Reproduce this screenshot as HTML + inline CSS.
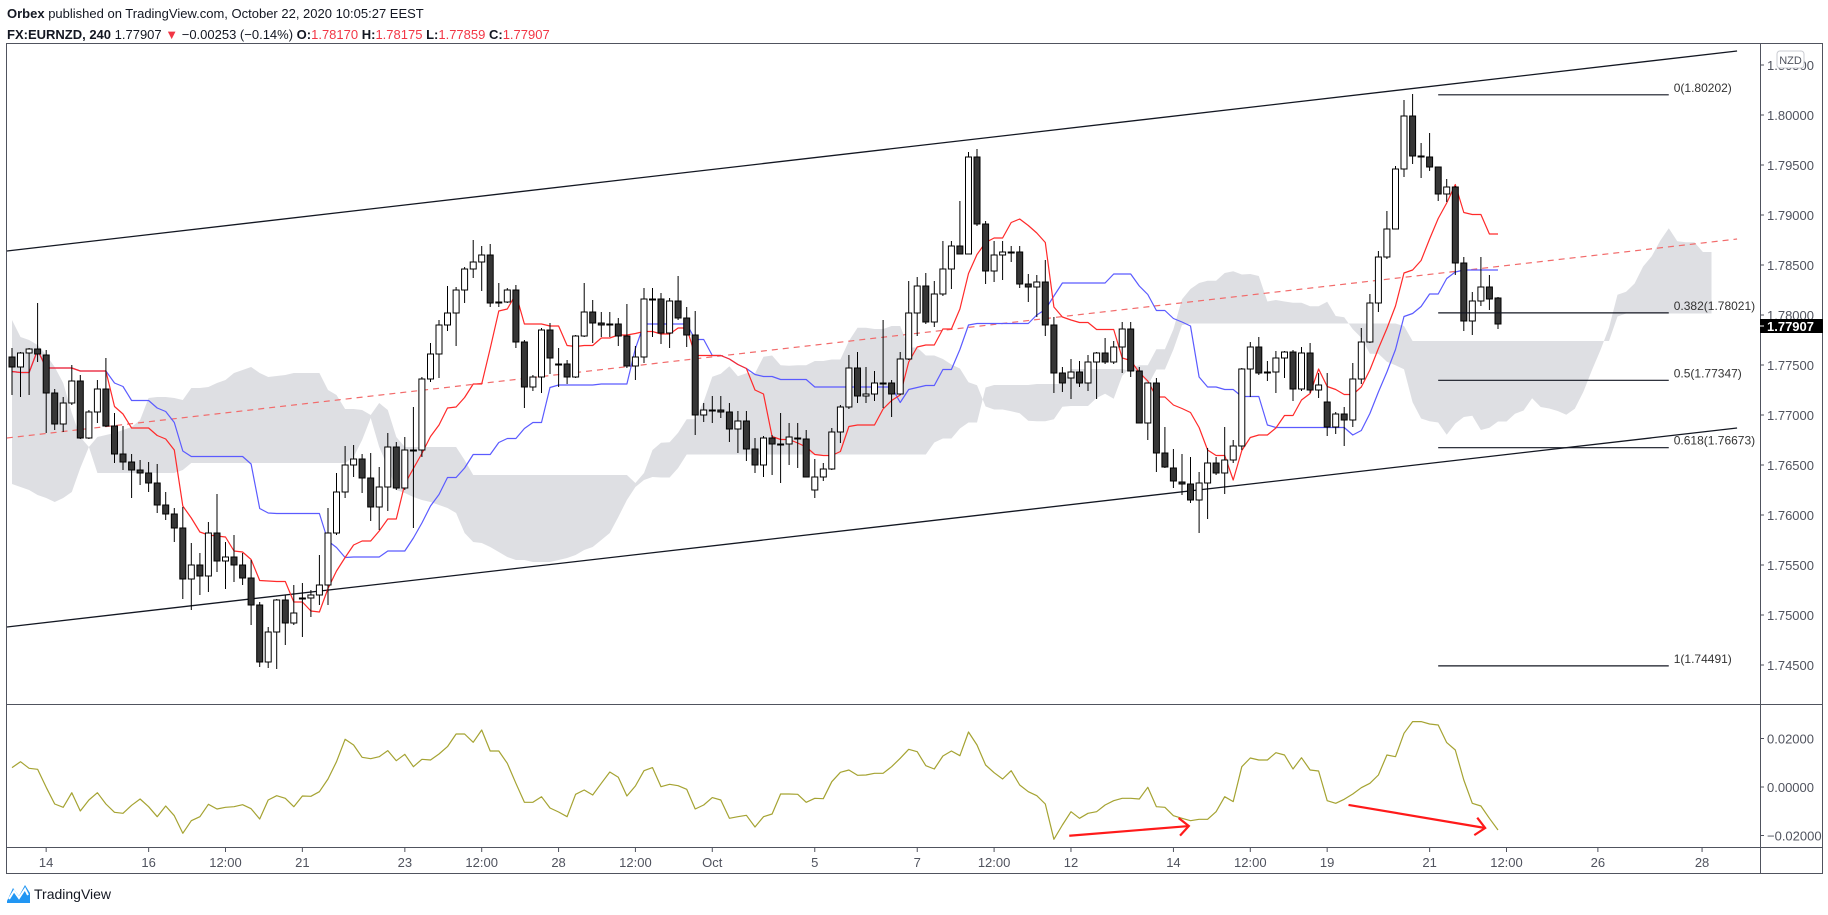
<!DOCTYPE html>
<html><head><meta charset="utf-8">
<style>
html,body{margin:0;padding:0;background:#fff;}
body{width:1828px;height:910px;overflow:hidden;font-family:"Liberation Sans",sans-serif;}
svg text{font-family:"Liberation Sans",sans-serif;}
</style></head>
<body>
<svg id="chart" width="1828" height="910" viewBox="0 0 1828 910" xmlns="http://www.w3.org/2000/svg">
  <g font-size="13" fill="#131722">
    <text x="7" y="18"><tspan font-weight="bold">Orbex</tspan> published on TradingView.com, October 22, 2020 10:05:27 EEST</text>
    <text x="7" y="39"><tspan font-weight="bold">FX:EURNZD, 240</tspan> 1.77907 <tspan fill="#f23645">▼</tspan> −0.00253 (−0.14%) <tspan font-weight="bold">O:</tspan><tspan fill="#f23645">1.78170</tspan> <tspan font-weight="bold">H:</tspan><tspan fill="#f23645">1.78175</tspan> <tspan font-weight="bold">L:</tspan><tspan fill="#f23645">1.77859</tspan> <tspan font-weight="bold">C:</tspan><tspan fill="#f23645">1.77907</tspan></text>
  </g>
  <defs>
    <clipPath id="mainClip"><rect x="6" y="43" width="1753" height="661"/></clipPath>
    <clipPath id="oscClip"><rect x="6" y="704" width="1753" height="143"/></clipPath>
  </defs>
  <g id="cloud" clip-path="url(#mainClip)"></g>
  <g id="drawings" clip-path="url(#mainClip)"></g>
  <g id="lines" clip-path="url(#mainClip)"></g>
  <g id="candles" clip-path="url(#mainClip)"></g>
  <g id="fib"></g>
  <g id="osc" clip-path="url(#oscClip)"></g>
  <g id="frame">
    <rect x="6.5" y="43.5" width="1816" height="830" fill="none" stroke="#50535e" stroke-width="1"/>
    <line x1="6" y1="704.5" x2="1822" y2="704.5" stroke="#50535e"/>
    <line x1="6" y1="847.5" x2="1822" y2="847.5" stroke="#50535e"/>
    <line x1="1760.5" y1="43" x2="1760.5" y2="873" stroke="#50535e"/>
  </g>
  <g id="yaxis" font-size="13" fill="#50535e"></g>
  <g id="oscaxis" font-size="13" fill="#50535e"></g>
  <g id="xaxis" font-size="13" fill="#50535e"></g>
  <g>
    <rect x="1777" y="51" width="27" height="17" rx="3" fill="#fff" stroke="#c9cbd1"/>
    <text x="1790.5" y="64" font-size="11" fill="#50535e" text-anchor="middle">NZD</text>
  </g>
  <g id="lastprice">
    <rect x="1760" y="319" width="63" height="14" fill="#000"/>
    <line x1="1760" y1="326" x2="1764" y2="326" stroke="#fff"/>
    <text x="1767" y="331" font-size="13" font-weight="bold" fill="#fff">1.77907</text>
  </g>
  <g>
    <path d="M7 901 L13 888 L19 896 L25 885 L30 893 L30 903 L7 903 Z" fill="#2196f3"/>
    <path d="M9 899 L14 891 L19 898 L25 889 L28 895" fill="none" stroke="#fff" stroke-width="2"/>
    <text x="34" y="899" font-size="14" fill="#131722">TradingView</text>
  </g>
</svg>
<script>
// ---------------- data ----------------
const opens=[1.7758,1.7748,1.7762,1.7766,1.7760,1.7722,1.7691,1.7712,1.7734,1.7677,1.7703,1.7726,1.7689,1.7661,1.7653,1.7645,1.7642,1.7632,1.7610,1.7601,1.7587,1.7536,1.7550,1.7539,1.7582,1.7554,1.7558,1.7550,1.7537,1.7510,1.7453,1.7483,1.7515,1.7492,1.7517,1.7517,1.7520,1.7530,1.7582,1.7623,1.7650,1.7656,1.7637,1.7608,1.7628,1.7668,1.7627,1.7665,1.7665,1.7736,1.7761,1.7790,1.7802,1.7825,1.7846,1.7853,1.7860,1.7812,1.7813,1.7825,1.7773,1.7728,1.7738,1.7785,1.7751,1.7751,1.7738,1.7779,1.7803,1.7792,1.7791,1.7791,1.7779,1.7749,1.7758,1.7816,1.7816,1.7782,1.7814,1.7797,1.7780,1.7700,1.7705,1.7705,1.7703,1.7686,1.7694,1.7666,1.7650,1.7677,1.7671,1.7671,1.7677,1.7676,1.7625,1.7638,1.7646,1.7683,1.7708,1.7747,1.7719,1.7721,1.7732,1.7732,1.7721,1.7756,1.7802,1.7829,1.7793,1.7821,1.7846,1.7869,1.7861,1.7958,1.7891,1.7844,1.7860,1.7863,1.7863,1.7831,1.7828,1.7833,1.7790,1.7742,1.7737,1.7743,1.7732,1.7753,1.7762,1.7753,1.7768,1.7786,1.7744,1.7692,1.7732,1.7662,1.7647,1.7633,1.7631,1.7615,1.7632,1.7652,1.7642,1.7655,1.7669,1.7746,1.7768,1.7743,1.7743,1.7757,1.7763,1.7726,1.7762,1.7725,1.7713,1.7688,1.7701,1.7695,1.7736,1.7773,1.7812,1.7858,1.7886,1.7946,1.7999,1.7959,1.7958,1.7948,1.7921,1.7928,1.7852,1.7794,1.7814,1.7828,1.7817];
const highs=[1.7767,1.7763,1.7767,1.7812,1.7765,1.7726,1.7718,1.7750,1.7740,1.7705,1.7735,1.7757,1.7702,1.7689,1.7661,1.7655,1.7653,1.7651,1.7623,1.7607,1.7608,1.7572,1.7562,1.7593,1.7621,1.7573,1.7580,1.7562,1.7555,1.7513,1.7488,1.7516,1.7520,1.7530,1.7532,1.7525,1.7560,1.7607,1.7642,1.7669,1.7670,1.7661,1.7662,1.7648,1.7682,1.7673,1.7678,1.7708,1.7738,1.7772,1.7795,1.7829,1.7828,1.7848,1.7875,1.7869,1.7871,1.7832,1.7827,1.7830,1.7775,1.7740,1.7787,1.7792,1.7767,1.7755,1.7780,1.7832,1.7815,1.7803,1.7803,1.7797,1.7811,1.7769,1.7827,1.7827,1.7822,1.7817,1.7839,1.7808,1.7804,1.7712,1.7719,1.7719,1.7712,1.7704,1.7704,1.7677,1.7679,1.7680,1.7702,1.7692,1.7692,1.7685,1.7656,1.7652,1.7687,1.7710,1.7760,1.7763,1.7748,1.7744,1.7795,1.7735,1.7763,1.7834,1.7838,1.7842,1.7834,1.7874,1.7874,1.7914,1.7963,1.7966,1.7894,1.7874,1.7874,1.7869,1.7869,1.7841,1.7840,1.7855,1.7798,1.7748,1.7756,1.7754,1.7760,1.7763,1.7777,1.7774,1.7793,1.7793,1.7748,1.7732,1.7737,1.7688,1.7666,1.7661,1.7658,1.7643,1.7667,1.7658,1.7688,1.7675,1.7747,1.7773,1.7778,1.7754,1.7764,1.7764,1.7765,1.7768,1.7772,1.7742,1.7742,1.7703,1.7708,1.7752,1.7787,1.7821,1.7864,1.7904,1.7949,1.8015,1.8021,1.7972,1.7982,1.7948,1.7936,1.7929,1.7858,1.7823,1.7858,1.7840,1.7818];
const lows=[1.7720,1.7718,1.7720,1.7753,1.7682,1.7685,1.7683,1.7710,1.7676,1.7676,1.7692,1.7688,1.7652,1.7645,1.7617,1.7630,1.7623,1.7602,1.7595,1.7573,1.7516,1.7505,1.7520,1.7523,1.7543,1.7526,1.7533,1.7530,1.7490,1.7448,1.7447,1.7446,1.7470,1.7490,1.7478,1.7498,1.7510,1.7510,1.7580,1.7617,1.7638,1.7622,1.7594,1.7585,1.7604,1.7625,1.7625,1.7587,1.7658,1.7733,1.7737,1.7784,1.7769,1.7812,1.7837,1.7824,1.7808,1.7808,1.7812,1.7767,1.7707,1.7724,1.7722,1.7741,1.7728,1.7731,1.7737,1.7778,1.7772,1.7778,1.7778,1.7769,1.7747,1.7735,1.7752,1.7778,1.7771,1.7767,1.7795,1.7768,1.7680,1.7693,1.7692,1.7697,1.7673,1.7662,1.7654,1.7642,1.7638,1.7640,1.7632,1.7650,1.7647,1.7638,1.7617,1.7634,1.7645,1.7672,1.7706,1.7712,1.7712,1.7714,1.7707,1.7698,1.7720,1.7755,1.7779,1.7791,1.7788,1.7819,1.7826,1.7861,1.7861,1.7889,1.7831,1.7833,1.7835,1.7853,1.7827,1.7813,1.7798,1.7779,1.7722,1.7723,1.7716,1.7728,1.7724,1.7716,1.7751,1.7751,1.7742,1.7738,1.7692,1.7675,1.7643,1.7647,1.7627,1.7620,1.7612,1.7582,1.7596,1.7640,1.7621,1.7652,1.7665,1.7718,1.7740,1.7734,1.7722,1.7737,1.7714,1.7724,1.7722,1.7717,1.7679,1.7681,1.7669,1.7688,1.7731,1.7772,1.7803,1.7856,1.7886,1.7938,1.7951,1.7937,1.7944,1.7914,1.7913,1.7840,1.7784,1.7780,1.7809,1.7805,1.7786];
const closes=[1.7748,1.7762,1.7766,1.7761,1.7722,1.7691,1.7712,1.7734,1.7677,1.7703,1.7726,1.7689,1.7661,1.7653,1.7645,1.7642,1.7632,1.7610,1.7601,1.7587,1.7536,1.7550,1.7539,1.7582,1.7554,1.7558,1.7550,1.7537,1.7510,1.7453,1.7483,1.7515,1.7492,1.7502,1.7517,1.7520,1.7530,1.7582,1.7623,1.7650,1.7656,1.7637,1.7608,1.7628,1.7668,1.7627,1.7665,1.7665,1.7736,1.7761,1.7790,1.7802,1.7825,1.7846,1.7853,1.7860,1.7812,1.7813,1.7825,1.7773,1.7728,1.7738,1.7785,1.7757,1.7750,1.7738,1.7779,1.7803,1.7792,1.7790,1.7790,1.7779,1.7749,1.7758,1.7816,1.7816,1.7782,1.7814,1.7797,1.7780,1.7700,1.7705,1.7705,1.7703,1.7686,1.7694,1.7666,1.7650,1.7677,1.7671,1.7671,1.7678,1.7676,1.7638,1.7638,1.7646,1.7683,1.7708,1.7747,1.7719,1.7721,1.7732,1.7731,1.7721,1.7756,1.7802,1.7829,1.7793,1.7821,1.7846,1.7869,1.7861,1.7958,1.7891,1.7844,1.7860,1.7863,1.7863,1.7831,1.7828,1.7833,1.7790,1.7742,1.7732,1.7743,1.7732,1.7753,1.7762,1.7753,1.7768,1.7786,1.7744,1.7692,1.7732,1.7662,1.7648,1.7634,1.7631,1.7615,1.7632,1.7652,1.7642,1.7655,1.7669,1.7746,1.7768,1.7742,1.7742,1.7757,1.7763,1.7726,1.7762,1.7725,1.7730,1.7688,1.7701,1.7695,1.7736,1.7773,1.7812,1.7858,1.7886,1.7946,1.7999,1.7959,1.7958,1.7948,1.7921,1.7928,1.7852,1.7794,1.7814,1.7828,1.7816,1.7791];
const earlyCloudA=[1.7795,1.7778,1.7775,1.7770,1.7760,1.7748,1.7732,1.7702,1.7678,1.7668,1.7678,1.7680,1.7682,1.7685,1.7688,1.7695,1.7717,1.7718,1.7718,1.7717,1.7715,1.7727,1.7727,1.7728,1.7732,1.7735,1.7742,1.7745,1.7748,1.7742,1.7738,1.7739,1.7740,1.7742,1.7742,1.7742,1.7742,1.7725,1.7720,1.7706,1.7706,1.7705,1.7700,1.7712,1.7705,1.7678,1.7668,1.7668,1.7668,1.7668,1.7668,1.7668,1.7668,1.7655,1.7640,1.7640,1.7640,1.7640,1.7640,1.7640,1.7640,1.7640,1.7640,1.7640,1.7640,1.7640,1.7640,1.7640,1.7640,1.7640,1.7640,1.7640,1.7640,1.7632,1.7642,1.7665];
const earlyCloudB=[1.7631,1.7628,1.7625,1.7620,1.7617,1.7613,1.7617,1.7623,1.7647,1.7668,1.7642,1.7642,1.7642,1.7642,1.7642,1.7642,1.7642,1.7642,1.7642,1.7642,1.7645,1.7652,1.7652,1.7652,1.7652,1.7652,1.7652,1.7652,1.7652,1.7652,1.7652,1.7652,1.7652,1.7652,1.7652,1.7652,1.7652,1.7652,1.7652,1.7652,1.7658,1.7675,1.7697,1.7668,1.7648,1.7625,1.7622,1.7618,1.7615,1.7613,1.7610,1.7607,1.7602,1.7582,1.7573,1.7572,1.7568,1.7563,1.7558,1.7555,1.7555,1.7553,1.7553,1.7553,1.7555,1.7557,1.7560,1.7565,1.7568,1.7575,1.7582,1.7598,1.7615,1.7628,1.7635,1.7638];
const oscValues=[0.00798,0.01045,0.00770,0.00729,-0.00013,-0.00701,-0.00838,-0.00233,-0.00989,-0.00536,-0.00233,-0.00701,-0.01044,-0.01085,-0.00756,-0.00494,-0.00811,-0.01223,-0.00783,-0.01182,-0.01910,-0.01388,-0.01223,-0.00714,-0.00907,-0.00838,-0.00811,-0.00728,-0.00893,-0.01319,-0.00536,-0.00357,-0.00467,-0.00811,-0.00371,-0.00385,-0.00192,0.00330,0.01045,0.01966,0.01732,0.01224,0.01169,0.01251,0.01499,0.01086,0.01347,0.00839,0.01141,0.01114,0.01361,0.01664,0.02186,0.02186,0.01842,0.02351,0.01485,0.01485,0.00976,0.00152,-0.00632,-0.00632,-0.00398,-0.00866,-0.01031,-0.01223,-0.00302,-0.00123,-0.00330,0.00152,0.00619,0.00399,-0.00371,0.00042,0.00674,0.00798,0.00014,0.00110,0.00055,-0.00096,-0.00907,-0.00742,-0.00439,-0.00536,-0.01292,-0.01223,-0.01168,-0.01649,-0.01223,-0.01113,-0.00288,-0.00288,-0.00302,-0.00632,-0.00467,-0.00481,0.00220,0.00605,0.00701,0.00482,0.00495,0.00564,0.00564,0.00839,0.01183,0.01554,0.01457,0.00880,0.00743,0.01279,0.01485,0.01292,0.02268,0.01732,0.00908,0.00591,0.00330,0.00674,0.00083,-0.00192,-0.00357,-0.00701,-0.02158,-0.01567,-0.01017,-0.01292,-0.01085,-0.01017,-0.00742,-0.00563,-0.00467,-0.00467,-0.00494,-0.00013,-0.00811,-0.00838,-0.01182,-0.01292,-0.01388,-0.01333,-0.01333,-0.01017,-0.00398,-0.00604,0.00839,0.01196,0.01114,0.01114,0.01416,0.01320,0.00743,0.01210,0.00701,0.00660,-0.00563,-0.00673,-0.00508,-0.00288,-0.00027,0.00152,0.00495,0.01320,0.01251,0.02213,0.02695,0.02695,0.02598,0.02557,0.01829,0.01526,0.00289,-0.00673,-0.00783,-0.01292,-0.01773];
const priceTicks=[1.805,1.800,1.795,1.790,1.785,1.780,1.775,1.770,1.765,1.760,1.755,1.750,1.745];
const oscTicks=[0.02,0,-0.02];
const timeLabels=["14","16","12:00","21","23","12:00","28","12:00","Oct","5","7","12:00","12","14","12:00","19","21","12:00","26","28"];
const timeLabelBars=[4,16,25,34,46,55,64,73,82,94,106,115,124,136,145,154,166,175,185.7,197.9];
const channelUpper=[[-0.6,1.7864],[202,1.8064]];
const channelLower=[[-0.6,1.7488],[202,1.7687]];
const channelMid=[[-0.6,1.7677],[202,1.7876]];
const fibLevels=[0,0.382,0.5,0.618,1];
const fibPrices=[1.80202,1.78021,1.77347,1.76673,1.74491];
const fibStartBar=167, fibEndBar=194;
const arrowBull=[[123.8,-0.0201],[137.8,-0.0161]];
const arrowBear=[[156.5,-0.0074],[172.5,-0.0169]];

// ---------------- scales ----------------
const NS='http://www.w3.org/2000/svg';
const X0=12, STEP=8.54;
function xOf(i){return X0+i*STEP;}
function yP(p){return 115+(1.8-p)*10000;}
function yO(v){return 787-v*2425;}
function mk(tag,attrs,parent){const e=document.createElementNS(NS,tag);for(const k in attrs)e.setAttribute(k,attrs[k]);parent.appendChild(e);return e;}
const $=id=>document.getElementById(id);
const N=closes.length;

function mid(a,b){let h=-1e9,l=1e9;for(let k=Math.max(0,a);k<=b;k++){h=Math.max(h,highs[k]);l=Math.min(l,lows[k]);}return (h+l)/2;}
const tenkan=[],kijun=[];
for(let i=0;i<N;i++){tenkan.push(mid(i-8,i));kijun.push(mid(i-25,i));}
const spanA=[],spanB=[];
for(let i=0;i<N+25;i++){
  if(i<earlyCloudA.length){spanA.push(earlyCloudA[i]);spanB.push(earlyCloudB[i]);}
  else{const j=i-25;spanA.push((tenkan[j]+kijun[j])/2);spanB.push(mid(j-51,j));}
}
let ptsA=spanA.map((v,i)=>xOf(i).toFixed(1)+','+yP(v).toFixed(1));
let ptsB=spanB.map((v,i)=>xOf(i).toFixed(1)+','+yP(v).toFixed(1)).reverse();
const cloudEl=mk('polygon',{points:ptsA.concat(ptsB).join(' '),fill:'#dedfe3',stroke:'none'},$('cloud'));



function poly(vals,xf,yf,color,parent,name){
  const el=mk('polyline',{points:vals.map((v,i)=>xf(i).toFixed(1)+','+yf(v).toFixed(1)).join(' '),fill:'none',stroke:color,'stroke-width':1.2,'stroke-linejoin':'round'},parent);
  
  
  return el;
}

function seg(pts,attrs,name,parent,yf){
  const el=mk('line',Object.assign({x1:xOf(pts[0][0]),y1:yf(pts[0][1]),x2:xOf(pts[1][0]),y2:yf(pts[1][1])},attrs),parent);
  
  
  return el;
}
seg(channelUpper,{stroke:'#131722','stroke-width':1.3},'channel-upper-line',$('drawings'),yP);
seg(channelLower,{stroke:'#131722','stroke-width':1.3},'channel-lower-line',$('drawings'),yP);
seg(channelMid,{stroke:'#f26b6b','stroke-width':1.2,'stroke-dasharray':'6 5'},'channel-mid-line',$('drawings'),yP);

poly(kijun,xOf,yP,'#5b5bff',$('lines'),'kijun-line');
poly(tenkan,xOf,yP,'#ff2a2a',$('lines'),'tenkan-line');

for(let i=0;i<N;i++){
  const x=xOf(i),o=opens[i],c=closes[i],up=c>=o;
  const g=mk('g',{},$('candles'));
  
  
  mk('line',{x1:x.toFixed(1),x2:x.toFixed(1),y1:yP(highs[i]).toFixed(1),y2:yP(lows[i]).toFixed(1),stroke:'#000','stroke-width':1},g);
  const t=yP(Math.max(o,c)),b=yP(Math.min(o,c));
  mk('rect',{x:(x-3).toFixed(1),y:t.toFixed(1),width:6,height:Math.max(1,b-t).toFixed(1),fill:up?'#ffffff':'#363636',stroke:'#000','stroke-width':1},g);
}

fibPrices.forEach((p,k)=>{
  const y=yP(p);
  const l=mk('line',{x1:xOf(fibStartBar),x2:xOf(fibEndBar),y1:y,y2:y,stroke:'#131722','stroke-width':1.2},$('fib'));
  
  
  const t=mk('text',{x:xOf(fibEndBar)+5,y:y-3,'font-size':12,fill:'#333'},$('fib'));
  
  
  t.textContent=fibLevels[k]+'('+p.toFixed(5)+')';
});

priceTicks.forEach(p=>{
  const y=yP(p);
  mk('line',{x1:1760,x2:1764,y1:y,y2:y,stroke:'#50535e'},$('yaxis'));
  const t=mk('text',{x:1767,y:y+5},$('yaxis'));
  
  
  t.textContent=p.toFixed(5);
});

poly(oscValues,xOf,yO,'#a5a332',$('osc'),'oscillator-line');
function arrow(a,name){
  const x1=xOf(a[0][0]),y1=yO(a[0][1]),x2=xOf(a[1][0]),y2=yO(a[1][1]);
  const g=mk('g',{stroke:'#ff1a1a','stroke-width':2.2,fill:'none'},$('osc'));
  
  
  mk('line',{x1,y1,x2,y2},g);
  const ang=Math.atan2(y2-y1,x2-x1),L=13,sp=0.75;
  mk('polyline',{points:`${x2-L*Math.cos(ang-sp)},${y2-L*Math.sin(ang-sp)} ${x2},${y2} ${x2-L*Math.cos(ang+sp)},${y2-L*Math.sin(ang+sp)}`},g);
}
arrow(arrowBull,'bullish-divergence-arrow');
arrow(arrowBear,'bearish-divergence-arrow');
oscTicks.forEach(v=>{
  const y=yO(v);
  mk('line',{x1:1760,x2:1764,y1:y,y2:y,stroke:'#50535e'},$('oscaxis'));
  const t=mk('text',{x:1767,y:y+5},$('oscaxis'));
  
  
  t.textContent=(v<0?'−':'')+Math.abs(v).toFixed(5);
});

timeLabels.forEach((s,k)=>{
  const x=xOf(timeLabelBars[k]);
  mk('line',{x1:x,x2:x,y1:848,y2:852,stroke:'#50535e'},$('xaxis'));
  const t=mk('text',{x:x,y:867,'text-anchor':'middle'},$('xaxis'));
  
  
  t.textContent=s;
});
</script>
</body></html>
